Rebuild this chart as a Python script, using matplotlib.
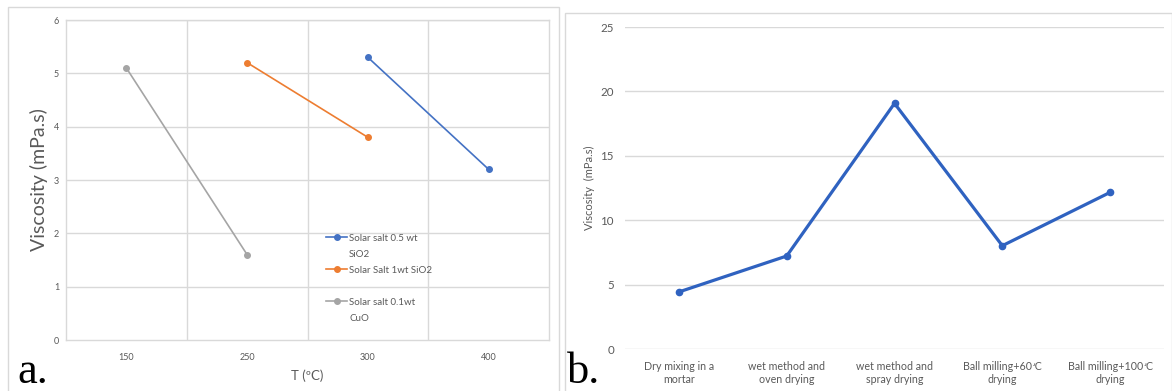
import matplotlib
matplotlib.use("Agg")
import matplotlib.pyplot as plt
import numpy as np
from matplotlib.patches import Rectangle
from matplotlib.lines import Line2D

plt.rcParams['font.family'] = ['Lato', 'DejaVu Sans']

# ---- Data: panel a ----
temps = ["150", "250", "300", "400"]
sio2_05 = [np.nan, np.nan, 5.3, 3.2]
sio2_1 = [np.nan, 5.2, 3.8, np.nan]
cuo_01 = [5.1, 1.6, np.nan, np.nan]
series_names = [("Solar salt 0.5 wt", "SiO2"), ("Solar Salt 1wt SiO2", ""), ("Solar salt 0.1wt", "CuO")]

# ---- Data: panel b ----
methods = ["Dry mixing in a\nmortar", "wet method and\noven drying", "wet method and\nspray drying",
           "Ball milling+60\u031b C\ndrying", "Ball milling+100\u031b C\ndrying"]
visc_b = [4.43, 7.22, 19.07, 8.02, 12.16]

W, H = 1172, 391
fig = plt.figure(figsize=(W / 100, H / 100), dpi=100)
fig.patch.set_facecolor('white')

def px(x0, y0, x1, y1):
    return [x0 / W, 1 - y1 / H, (x1 - x0) / W, (y1 - y0) / H]

# panel frames
fig.patches.append(Rectangle((8 / W, -0.05), (559 - 8) / W, 1 - 7 / H + 0.05, transform=fig.transFigure,
                             fill=False, edgecolor='#d9d9d9', lw=1.0))
fig.patches.append(Rectangle((565 / W, -0.05), (1172 - 565) / W, 1 - 13 / H + 0.05, transform=fig.transFigure,
                             fill=False, edgecolor='#d9d9d9', lw=1.0))

grid_c = '#d9d9d9'
txt_c = '#595959'

# ---- Panel a ----
ax1 = fig.add_axes(px(66, 20, 549, 340))
x = np.arange(len(temps))
cols = ['#4472C4', '#ED7D31', '#A5A5A5']
handles, labels = [], []
for vals, c, (l1, l2) in zip([sio2_05, sio2_1, cuo_01], cols, series_names):
    h, = ax1.plot(x, vals, color=c, lw=1.2, marker='o', ms=4)
    handles += [h, Line2D([], [], color='none')]
    labels += [l1, l2]
ax1.set_xlim(-0.5, len(temps) - 0.5)
ax1.set_ylim(0, 6)
ax1.set_yticks(range(0, 7))
ax1.set_xticks(x)
ax1.set_xticklabels(temps)
for b in np.arange(0.5, len(temps) - 0.5, 1):
    ax1.axvline(b, color=grid_c, lw=1.0, zorder=0)
for yv in range(1, 7):
    ax1.axhline(yv, color=grid_c, lw=1.0, zorder=0)
for s in ax1.spines.values():
    s.set_color(grid_c)
    s.set_linewidth(1.0)
ax1.tick_params(length=0, labelsize=6.5, colors=txt_c, pad=5)
ax1.tick_params(axis='x', pad=9)
ax1.set_ylabel("Viscosity (mPa.s)", fontsize=14, color=txt_c, labelpad=4)
ax1.set_xlabel("T (ºC)", fontsize=9.5, color=txt_c, labelpad=6)
leg = ax1.legend(handles, labels, loc='upper left', bbox_to_anchor=((322 - 66) / 483, (340 - 230) / 320),
                 frameon=False, fontsize=7, labelcolor=txt_c, handlelength=2.2, handletextpad=0.2,
                 labelspacing=0.72, borderaxespad=0)

# ---- Panel b ----
ax2 = fig.add_axes(px(625, 27, 1164, 349))
xb = np.arange(len(methods))
ax2.plot(xb, visc_b, color='#2F62C0', lw=2.3, marker='o', ms=4.5)
ax2.set_xlim(-0.5, len(methods) - 0.5)
ax2.set_ylim(0, 25)
ax2.set_yticks(range(0, 26, 5))
ax2.set_xticks(xb)
ax2.set_xticklabels(methods)
for yv in range(0, 26, 5):
    ax2.axhline(yv, color=grid_c, lw=1.0, zorder=0)
for s in ax2.spines.values():
    s.set_visible(False)
ax2.tick_params(length=0, labelsize=8.3, colors=txt_c, pad=8)
ax2.tick_params(axis='x', labelsize=7.7, pad=9)
ax2.set_ylabel("Viscosity  (mPa.s)", fontsize=8, color=txt_c, labelpad=4)

# panel letters
fig.text(17 / W, 1 - 383 / H, "a.", fontsize=32, family='Liberation Serif', color='black', va='baseline')
fig.text(567 / W, 1 - 383 / H, "b.", fontsize=32, family='Liberation Serif', color='black', va='baseline')

fig.savefig("out.png", dpi=100, facecolor='white')
